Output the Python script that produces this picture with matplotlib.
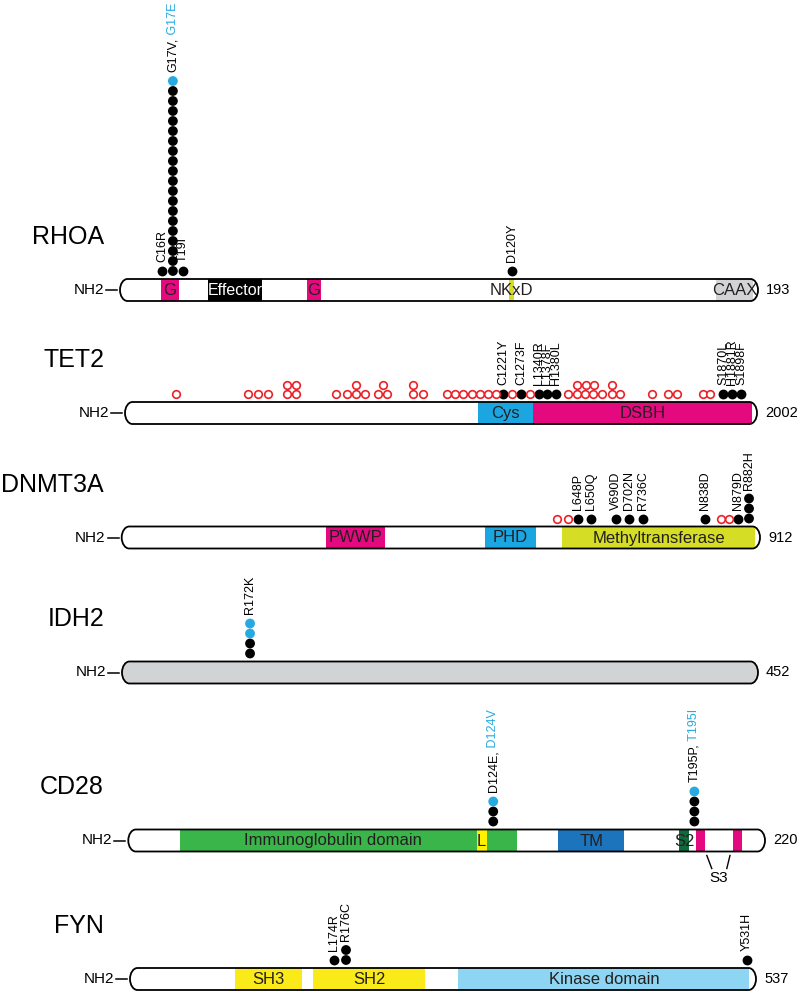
import matplotlib
matplotlib.use("Agg")
import matplotlib.pyplot as plt
from matplotlib.path import Path
from matplotlib.patches import PathPatch, Rectangle
from matplotlib.transforms import Affine2D

plt.rcParams["font.family"] = ["Liberation Sans", "DejaVu Sans"]

# ---- data -------------------------------------------------------------
proteins = ["RHOA", "TET2", "DNMT3A", "IDH2", "CD28", "FYN"]
lengths = [193, 2002, 912, 452, 220, 537]

# domains: (label, start, end) in residues
rhoa_domains = [("G", 12.4, 17.8), ("Effector", 26.6, 43.0), ("G", 56.6, 60.8),
                ("NKxD", 117.7, 119.2), ("CAAX", 180.3, 191.5)]
tet2_domains = [("Cys", 1118, 1292), ("DSBH", 1292, 1986)]
dnmt3a_domains = [("PWWP", 292, 376), ("PHD", 519, 592), ("Methyltransferase", 629, 905)]
idh2_domains = [("", 0, 452)]
cd28_domains = [("Immunoglobulin domain", 17.9, 134.4), ("L", 120.4, 123.8),
                ("TM", 148.6, 171.3), ("S2", 190.4, 193.8),
                ("S3", 196.2, 199.3), ("S3", 208.8, 212.0)]
fyn_domains = [("SH3", 90.1, 147.8), ("SH2", 157.4, 253.2), ("Kinase domain", 281.6, 531.4)]

# recurrent mutations: (black label, blue label, position, n black, n blue)
rhoa_muts = [("C16R", "", 12.7, 1, 0), ("G17V,", " G17E", 16.0, 19, 1),
             ("T19I", "", 19.1, 1, 0), ("D120Y", "", 118.6, 1, 0)]
tet2_muts = [("C1221Y", "", 1198.4, 1, 0), ("C1273F", "", 1254.4, 1, 0),
             ("L1340R", "", 1312.4, 1, 0), ("L1378F", "", 1337.8, 1, 0),
             ("H1380L", "", 1365.3, 1, 0), ("S1870L", "", 1895.3, 1, 0),
             ("H1881R", "", 1921.9, 1, 0), ("S1898F", "", 1951.3, 1, 0)]
dnmt3a_muts = [("L648P", "", 651.5, 1, 0), ("L650Q", "", 670.5, 1, 0),
               ("V690D", "", 706.3, 1, 0), ("D702N", "", 725.3, 1, 0),
               ("R736C", "", 745.3, 1, 0), ("N838D", "", 833.4, 1, 0),
               ("N879D", "", 881.0, 1, 0), ("R882H", "", 896.3, 3, 0)]
idh2_muts = [("R172K", "", 91.0, 2, 2)]
cd28_muts = [("D124E,", " D124V", 126.1, 2, 1), ("T195P,", " T195I", 195.6, 3, 1)]
fyn_muts = [("L174R", "", 175.3, 1, 0), ("R176C", "", 185.3, 2, 0), ("Y531H", "", 529.0, 1, 0)]

# other (non-recurrent) mutations: position, stack level
tet2_open_pos = [161.6, 388.7, 420.4, 452.0, 514.1, 540.7, 667.5, 702.3, 731.8, 760.3,
                 802.4, 829.0, 913.3, 944.9, 1019.1, 1045.4, 1071.7, 1098.3, 1124.6,
                 1150.0, 1175.3, 1225.0, 1283.0, 1404.3, 1430.9, 1457.2, 1483.5, 1510.1,
                 1541.8, 1568.1, 1668.5, 1721.1, 1747.7, 1830.0, 1853.2,
                 514.1, 540.7, 731.8, 816.3, 913.3, 1430.9, 1459.4, 1486.7, 1543.7]
tet2_open_level = [0] * 35 + [1] * 9
dnmt3a_open_pos = [621.5, 637.2, 855.8, 867.7]
dnmt3a_open_level = [0, 0, 0, 0]

domains = [rhoa_domains, tet2_domains, dnmt3a_domains, idh2_domains, cd28_domains, fyn_domains]
muts = [rhoa_muts, tet2_muts, dnmt3a_muts, idh2_muts, cd28_muts, fyn_muts]
open_pos = [[], tet2_open_pos, dnmt3a_open_pos, [], [], []]
open_level = [[], tet2_open_level, dnmt3a_open_level, [], [], []]

# ---- layout / style ---------------------------------------------------
bar_x0 = [120, 125, 121.7, 122, 128.3, 130]
bar_x1 = [758, 757, 760, 758, 765, 756]
bar_y = [290, 413, 537.5, 672.5, 840.5, 979]
BAR_H = 22

MAGENTA = "#E5097F"
CYAN = "#1BA6E1"
LIME = "#D5DE24"
GRAY = "#D2D3D5"
DOT_BLUE = "#27AAE1"
RED = "#EC2027"
dom_color = {"G": MAGENTA, "Effector": "black", "NKxD": LIME, "CAAX": GRAY,
             "Cys": CYAN, "DSBH": MAGENTA, "PWWP": MAGENTA, "PHD": CYAN,
             "Methyltransferase": LIME, "": GRAY, "Immunoglobulin domain": "#3AB54A",
             "L": "#FFF200", "TM": "#1C75BC", "S2": "#0B6B3A", "S3": MAGENTA,
             "SH3": "#FBEA1A", "SH2": "#FBEA1A", "Kinase domain": "#8DD5F2"}
no_text = {"S3", ""}

W, H = 800, 991
fig = plt.figure(figsize=(W / 100, H / 100), dpi=100)
ax = fig.add_axes([0, 0, 1, 1])
ax.set_xlim(0, W)
ax.set_ylim(H, 0)
ax.axis("off")


def capsule(x0, x1, yc, h=BAR_H, b=7.5):
    k = 0.5523
    t, m, bt = yc - h / 2, yc, yc + h / 2
    verts = [(x0 + b, t), (x1 - b, t),
             (x1 - b + k * b, t), (x1, m - k * h / 2), (x1, m),
             (x1, m + k * h / 2), (x1 - b + k * b, bt), (x1 - b, bt),
             (x0 + b, bt),
             (x0 + b - k * b, bt), (x0, m + k * h / 2), (x0, m),
             (x0, m - k * h / 2), (x0 + b - k * b, t), (x0 + b, t),
             (x0 + b, t)]
    codes = [Path.MOVETO, Path.LINETO] + [Path.CURVE4] * 6 + [Path.LINETO] + \
            [Path.CURVE4] * 6 + [Path.CLOSEPOLY]
    return Path(verts, codes)


STEP = 10
R = 5
for i, name in enumerate(proteins):
    L = lengths[i]
    x0, x1, yc = bar_x0[i], bar_x1[i], bar_y[i]
    # residue -> pixel along x, pixels along y
    tr = Affine2D().scale((x1 - x0) / L, 1).translate(x0, 0) + ax.transData

    path = capsule(x0, x1, yc)
    ax.add_patch(PathPatch(path, facecolor="white", edgecolor="none", zorder=1))
    clip = PathPatch(path, transform=ax.transData, facecolor="none", edgecolor="none")
    ax.add_patch(clip)
    for lab, s, e in domains[i]:
        r = Rectangle((s, yc - BAR_H / 2), e - s, BAR_H, transform=tr,
                      facecolor=dom_color[lab], edgecolor="none", zorder=2)
        ax.add_patch(r)
        r.set_clip_path(clip)
    for lab, s, e in domains[i]:
        if lab in no_text:
            continue
        cx = (s + e) / 2
        if lab == "Immunoglobulin domain":
            cx = (s + domains[i][1][2]) / 2
        ax.text(cx, yc + 0.5, lab, transform=tr, ha="center", va="center",
                fontsize=11.5 if lab == "Effector" else 12,
                color="white" if lab == "Effector" else "#231F20", zorder=4)
    ax.add_patch(PathPatch(path, facecolor="none", edgecolor="black", lw=1.3, zorder=3))

    ax.text(104, yc - 53, name, ha="right", va="center", fontsize=18)
    ax.text(x0 - 16, yc, "NH2", ha="right", va="center", fontsize=11)
    ax.plot([x0 - 14, x0 - 3], [yc, yc], color="black", lw=1.1)
    ax.text(x1 + 8, yc, str(L), ha="left", va="center", fontsize=10.5)

    row = yc - BAR_H / 2 - 8
    for lab, lab2, p, nb, nc in muts[i]:
        ys = [row - k * STEP for k in range(nb + nc)]
        cols = ["black"] * nb + [DOT_BLUE] * nc
        ax.scatter([p] * len(ys), ys, s=50, c=cols, linewidths=0, transform=tr, zorder=5)
        t = ax.text(p, ys[-1] - R - 4, lab, transform=tr, rotation=90,
                    ha="center", va="bottom", fontsize=9, zorder=5)
        if lab2:
            ax.annotate(lab2, xy=(0.5, 1.0), xycoords=t, rotation=90,
                        ha="center", va="bottom", fontsize=9, color=DOT_BLUE)
    if open_pos[i]:
        ys = [row - lv * 9 for lv in open_level[i]]
        ax.scatter(open_pos[i], ys, s=30, facecolors="white", edgecolors=RED,
                   linewidths=1.2, transform=tr, zorder=5)

# S3 callout under CD28
tr = Affine2D().scale((bar_x1[4] - bar_x0[4]) / lengths[4], 1).translate(bar_x0[4], 0) + ax.transData
yb = bar_y[4] + BAR_H / 2
ax.plot([199.9, 201.6], [yb + 4, yb + 17], color="black", lw=1, transform=tr)
ax.plot([207.9, 206.8], [yb + 4, yb + 17], color="black", lw=1, transform=tr)
ax.text(204.1, yb + 26, "S3", transform=tr, ha="center", va="center", fontsize=11)

fig.savefig("out.png", dpi=100)
plt.close(fig)
